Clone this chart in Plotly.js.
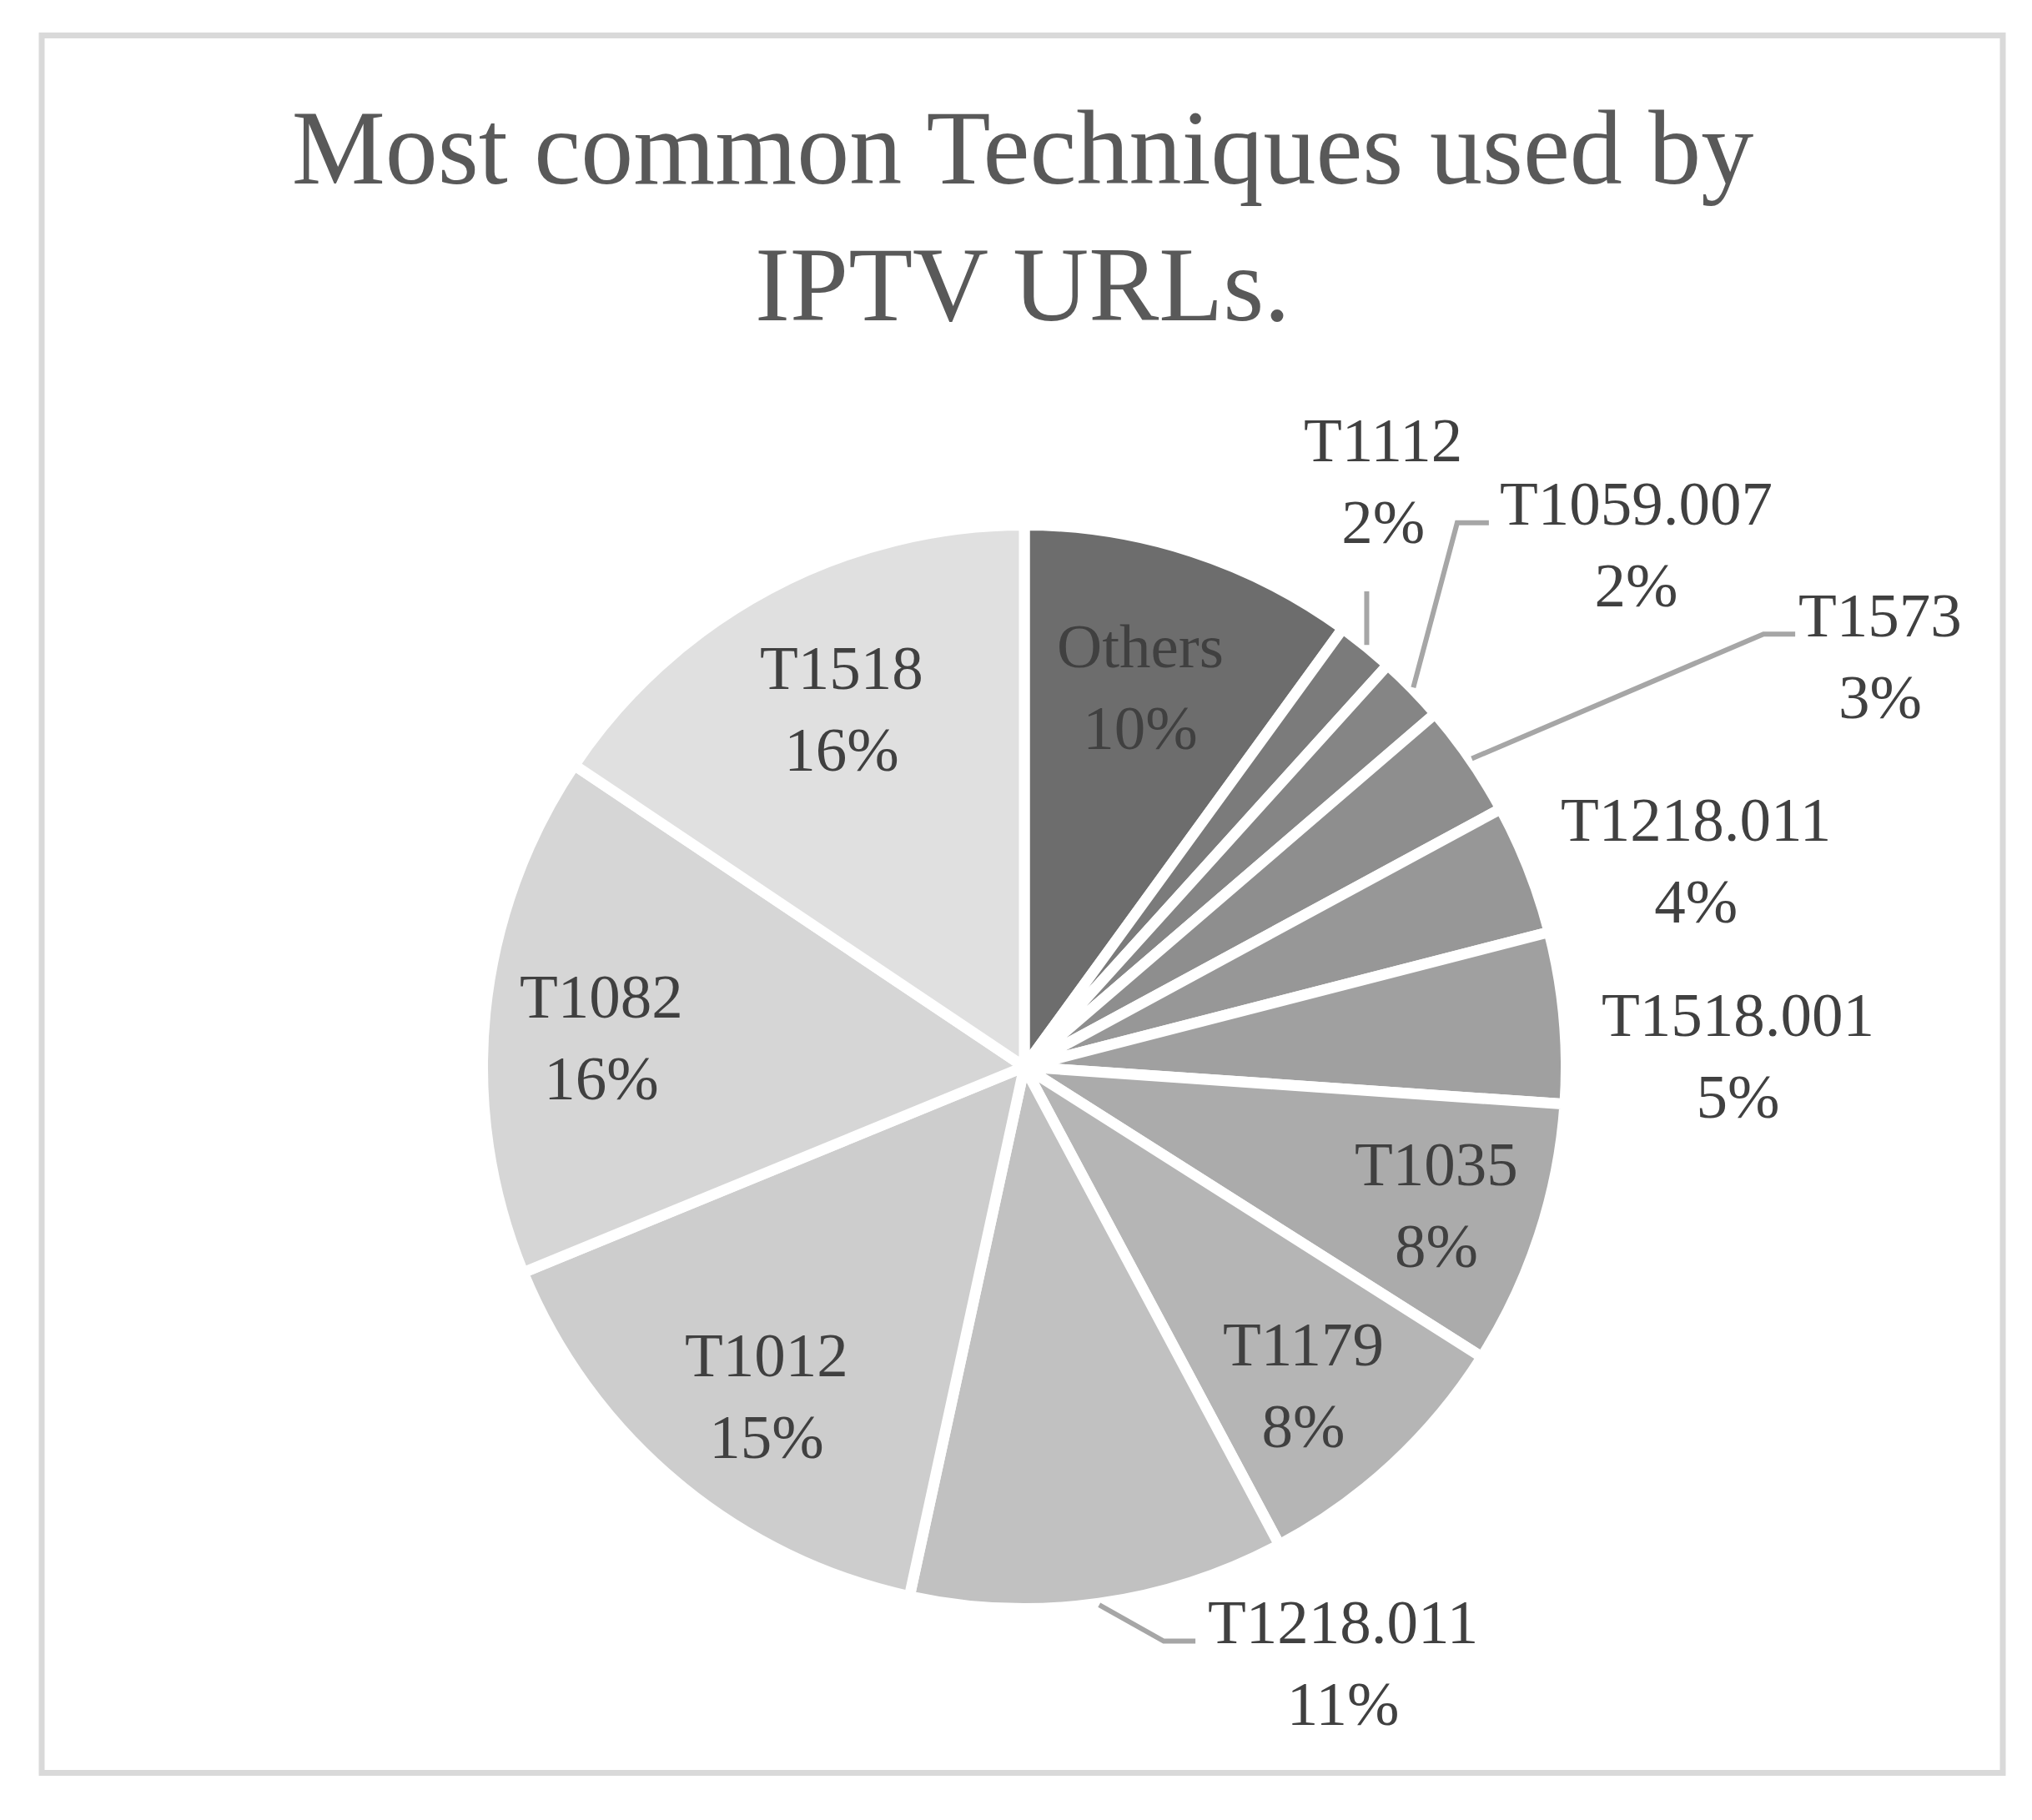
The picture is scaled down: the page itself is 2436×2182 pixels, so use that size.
<!DOCTYPE html>
<html><head><meta charset="utf-8">
<script src="https://cdn.plot.ly/plotly-3.0.1.min.js"></script>
<style>html,body{margin:0;padding:0;background:#fff}</style>
</head><body>
<div id="chart" style="width:2436px;height:2182px"></div>
<script>
// ---- data ----
const techniques = ['Others','T1112','T1059.007','T1573','T1218.011','T1518.001','T1035','T1179','T1218.011','T1012','T1082','T1518'];
const shares = [10.0, 1.7, 2.0, 3.4, 3.9, 5.1, 7.9, 8.2, 11.2, 15.4, 15.6, 15.6];
const chartTitle = 'Most common Techniques used by<br>IPTV URLs.';

// ---- style ----
const sliceColors = ['#6d6d6d','#7b7b7b','#858585','#8e8e8e','#979797','#a0a0a0','#ababab','#b5b5b5','#c1c1c1','#cdcdcd','#d6d6d6','#e0e0e0'];
// label placement relative to each slice's mid-angle (radius factor, angle nudge in degrees)
const labelPlace = [
  {rf:0.74, da:-1},
  {rf:1.28, da:-7.6, leader:'vertical', stop:132},
  {rf:1.50, da:3.8, leader:'elbow'},
  {rf:1.77, da:8.9, leader:'elbow'},
  {rf:1.31, da:4.3},
  {rf:1.33, da:4.3},
  {rf:0.81, da:0.3},
  {rf:0.79, da:1.6},
  {rf:1.26, da:-20.2, leader:'elbow'},
  {rf:0.78, da:-1.9},
  {rf:0.79, da:-1.8},
  {rf:0.75, da:1.1}
];

const W = 2436, H = 2182;
const FONT = '"Liberation Serif","Times New Roman",serif';
const LABEL_SIZE = 75, TITLE_SIZE = 126;
const lineW = 13;
const pieCenter = {x:1228, y:1279};
const pieR = 643; // visible radius in px
const rPlot = pieR + lineW / 2;

const px2x = x => x / W;
const px2y = y => 1 - y / H;

const total = shares.reduce((a, b) => a + b, 0);
const uniqueLabels = techniques.map((t, i) => t + ' #' + (i + 1));

// mid-angles (deg, clockwise from 12 o'clock) derived from data
let cum = 0;
const midAngles = shares.map(v => { const m = (cum + v / 2) / total * 360; cum += v; return m; });

const annotations = [];
const shapes = [];

// outer border
shapes.push({type:'rect', xref:'paper', yref:'paper',
  x0: px2x(50), x1: px2x(2401), y0: px2y(2125.5), y1: px2y(42.5),
  line:{color:'#d9d9d9', width:7}, fillcolor:'rgba(0,0,0,0)', layer:'below'});

techniques.forEach((name, i) => {
  const p = labelPlace[i];
  const a = (midAngles[i] + p.da) * Math.PI / 180;
  const cx = pieCenter.x + p.rf * pieR * Math.sin(a);
  const cy = pieCenter.y - p.rf * pieR * Math.cos(a);
  const pct = Math.round(shares[i] / total * 100) + '%';
  annotations.push({
    x: px2x(cx), y: px2y(cy), xref:'paper', yref:'paper',
    text: name + '<br>' + pct, showarrow:false,
    xanchor:'center', yanchor:'middle', align:'center',
    font:{family:FONT, size:LABEL_SIZE, color:'#404040'}
  });
  if (p.leader) {
    const m = midAngles[i] * Math.PI / 180;
    const sx = pieCenter.x + 1.013 * pieR * Math.sin(m);
    const sy = pieCenter.y - 1.013 * pieR * Math.cos(m);
    let path;
    if (p.leader === 'vertical') {
      path = `M ${px2x(sx)} ${px2y(sy)} L ${px2x(sx)} ${px2y(cy + p.stop)}`;
    } else {
      const estW = name.length * 0.5 * LABEL_SIZE;
      const ex = cx - estW / 2 - 8, ey = cy - 26;
      const bx = ex - 38;
      path = `M ${px2x(sx)} ${px2y(sy)} L ${px2x(bx)} ${px2y(ey)} L ${px2x(ex)} ${px2y(ey)}`;
    }
    shapes.push({type:'path', xref:'paper', yref:'paper', path,
      line:{color:'#a6a6a6', width:6}});
  }
});

const trace = {
  type:'pie',
  labels: uniqueLabels,
  values: shares,
  text: techniques,
  sort:false,
  direction:'clockwise',
  rotation:0,
  textinfo:'none',
  hoverinfo:'text+percent',
  marker:{colors:sliceColors, line:{color:'#ffffff', width:lineW}},
  domain:{
    x:[px2x(pieCenter.x - rPlot), px2x(pieCenter.x + rPlot)],
    y:[px2y(pieCenter.y + rPlot), px2y(pieCenter.y - rPlot)]
  },
  showlegend:false
};

const layout = {
  width:W, height:H,
  margin:{l:0, r:0, t:0, b:0},
  paper_bgcolor:'#ffffff',
  title:{text:chartTitle, x:1226/W, xanchor:'center', y:1 - 220/H, yanchor:'top',
    font:{family:FONT, size:TITLE_SIZE, color:'#595959'}},
  showlegend:false,
  annotations, shapes
};

Plotly.newPlot('chart', [trace], layout, {displayModeBar:false, staticPlot:true});
</script>
</body></html>
